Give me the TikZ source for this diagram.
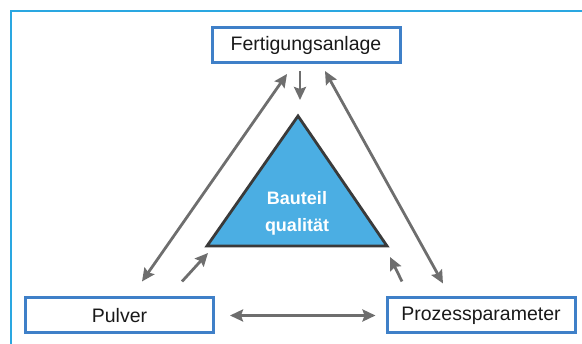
\documentclass[tikz,border=0pt]{standalone}
\usepackage{fontspec}
\setmainfont{Liberation Sans}
\usetikzlibrary{arrows.meta,calc}

\definecolor{framecol}{HTML}{2AA7E1}
\definecolor{boxcol}{HTML}{3F80C8}
\definecolor{trifill}{HTML}{4BAEE3}
\definecolor{tricol}{HTML}{3A3A3A}
\definecolor{arrcol}{HTML}{6E6E6E}

\tikzset{
  factor/.style={draw=boxcol, line width=3pt, fill=white, minimum width=188pt, minimum height=35pt, inner sep=0pt, font=\fontsize{19.5}{23}\selectfont, text=black!90},
  arr/.style={draw=arrcol, line width=2.8pt}
}

\begin{document}
\begin{tikzpicture}[x=1pt, y=1pt, >={Stealth[length=13pt,width=12pt,inset=2pt]}]
\useasboundingbox (0,0) rectangle (582,344);
% Rahmen
\draw[framecol, line width=2pt] (11,0) -- (11,333) -- (582,333);

% Einflussgroessen
\node[factor] (fert) at (306,299) {Fertigungsanlage};
\node[factor] (pulver) at (119.5,28.5) {Pulver};
\node[factor] (prozess) at (481,28.5) {Prozessparameter};

% Dreieck
\coordinate (top) at (298,228);
\coordinate (bl) at (207,98);
\coordinate (br) at (387,98);
\draw[tricol, fill=trifill, line width=2.8pt, line join=miter] (top) -- (bl) -- (br) -- cycle;
\node[text=white, align=center, font=\bfseries\fontsize{18}{27}\selectfont] (quali) at (297,131) {Bauteil\\qualität};

% Pfeile
\draw[arr,->] ([xshift=-6pt,yshift=-7pt]fert.south) -- ([xshift=2pt,yshift=16pt]top);
\draw[arr,<->] ([xshift=22.5pt,yshift=15pt]pulver.north) -- ([xshift=-19pt,yshift=-10pt]fert.south);
\draw[arr,<->] ([xshift=19pt,yshift=-7pt]fert.south) -- ([xshift=-38pt,yshift=13pt]prozess.north);
\draw[arr,->] ([xshift=62.5pt,yshift=15pt]pulver.north) -- ([xshift=1pt,yshift=-7pt]bl);
\draw[arr,->] ([xshift=-79pt,yshift=15pt]prozess.north) -- ([xshift=3pt,yshift=-11pt]br);
\draw[arr,<->] ([xshift=15pt]pulver.east) -- ([xshift=-10pt]prozess.west);
\end{tikzpicture}
\end{document}
